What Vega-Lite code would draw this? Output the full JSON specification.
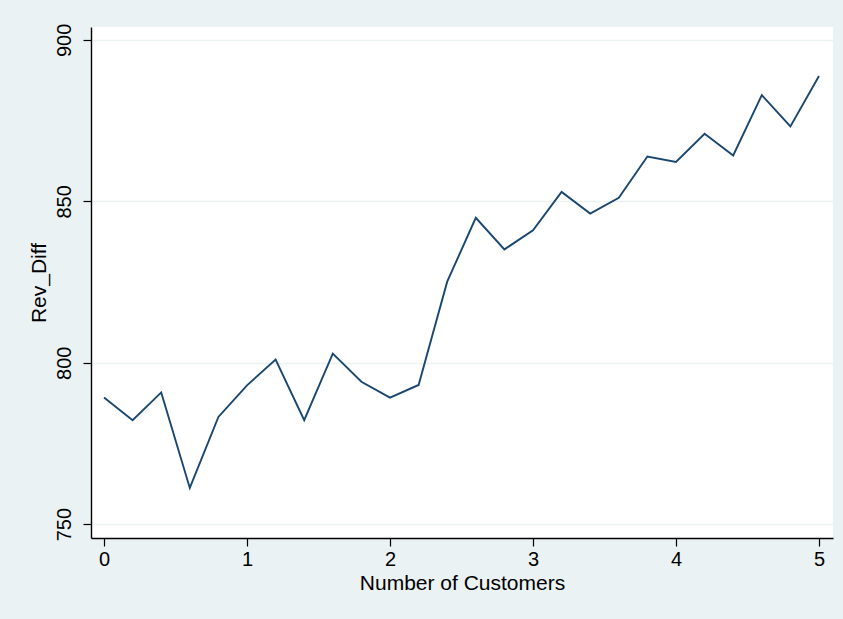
{
  "$schema": "https://vega.github.io/schema/vega-lite/v6.json",
  "width": 742,
  "height": 511,
  "autosize": {"type": "none"},
  "padding": {"left": 91, "top": 27, "right": 10, "bottom": 81},
  "background": "#eaf2f3",
  "config": {
    "view": {"fill": "#ffffff", "stroke": null},
    "font": "Liberation Sans",
    "axis": {
      "labelFont": "Liberation Sans",
      "titleFont": "Liberation Sans",
      "labelColor": "#000000",
      "titleColor": "#000000",
      "labelFontSize": 20,
      "titleFontSize": 21,
      "titleFontWeight": "normal",
      "domainColor": "#000000",
      "domainWidth": 1.4,
      "tickColor": "#000000",
      "tickWidth": 1.2,
      "tickSize": 8
    }
  },
  "data": {
    "values": [
      {"customers": 0.0, "rev_diff": 789.2},
      {"customers": 0.2, "rev_diff": 782.2},
      {"customers": 0.4, "rev_diff": 790.8},
      {"customers": 0.6, "rev_diff": 761.2},
      {"customers": 0.8, "rev_diff": 783.2},
      {"customers": 1.0, "rev_diff": 793.0},
      {"customers": 1.2, "rev_diff": 801.0},
      {"customers": 1.4, "rev_diff": 782.2},
      {"customers": 1.6, "rev_diff": 802.8},
      {"customers": 1.8, "rev_diff": 794.1},
      {"customers": 2.0, "rev_diff": 789.2},
      {"customers": 2.2, "rev_diff": 793.1},
      {"customers": 2.4, "rev_diff": 825.1},
      {"customers": 2.6, "rev_diff": 844.9},
      {"customers": 2.8, "rev_diff": 835.1},
      {"customers": 3.0, "rev_diff": 841.0},
      {"customers": 3.2, "rev_diff": 852.9},
      {"customers": 3.4, "rev_diff": 846.2},
      {"customers": 3.6, "rev_diff": 851.1},
      {"customers": 3.8, "rev_diff": 863.9},
      {"customers": 4.0, "rev_diff": 862.2},
      {"customers": 4.2, "rev_diff": 870.9},
      {"customers": 4.4, "rev_diff": 864.2},
      {"customers": 4.6, "rev_diff": 882.9},
      {"customers": 4.8, "rev_diff": 873.2},
      {"customers": 5.0, "rev_diff": 888.8}
    ]
  },
  "mark": {
    "type": "line",
    "color": "#1a476f",
    "strokeWidth": 1.9,
    "strokeJoin": "miter"
  },
  "encoding": {
    "x": {
      "field": "customers",
      "type": "quantitative",
      "title": "Number of Customers",
      "scale": {"domain": [-0.091, 5.098], "nice": false, "zero": false},
      "axis": {
        "values": [0, 1, 2, 3, 4, 5],
        "format": "d",
        "grid": false,
        "labelPadding": 3,
        "titlePadding": 3
      }
    },
    "y": {
      "field": "rev_diff",
      "type": "quantitative",
      "title": "Rev_Diff",
      "scale": {"domain": [745.7, 904.0], "nice": false, "zero": false},
      "axis": {
        "values": [750, 800, 850, 900],
        "format": "d",
        "grid": true,
        "gridColor": "#eaf2f3",
        "gridWidth": 1.5,
        "labelAngle": 270,
        "labelAlign": "center",
        "labelBaseline": "bottom",
        "labelPadding": 9,
        "titlePadding": 5
      }
    }
  }
}
